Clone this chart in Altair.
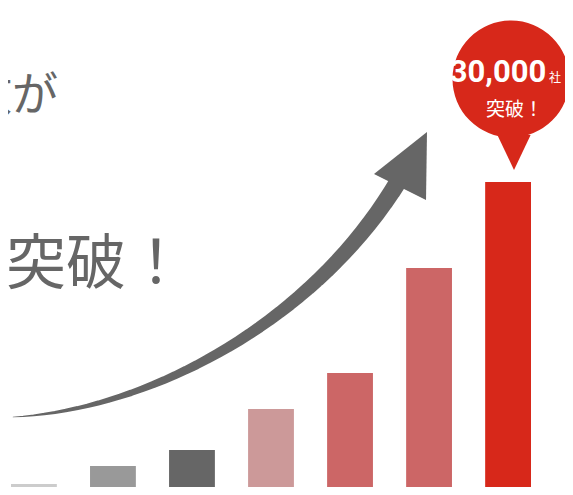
import altair as alt
import pandas as pd

# ---- data ----
years = ["2012", "2013", "2014", "2015", "2016", "2017", "2018"]
companies = [1050, 2780, 4310, 8240, 11690, 21760, 30000]
bar_colors = ["#cccccc", "#999999", "#666666", "#cc9999", "#cc6666", "#cc6666", "#d7281a"]

headline_top = "数が"
headline_mid = "突破！"
bubble_num = "30,000"
bubble_unit = "社"
bubble_sub = "突破！"

# ---- decoration geometry (page px) ----
OFF = 8
# cubic Bezier control points for the arrow shaft (decoration, not data)
P0, P1, P2, P3 = (13, 417), (150, 410), (320, 320), (405, 170)
N = 40
ax, ay, aw = [], [], []
for k in range(N + 1):
    t = k / N
    a, b, c, d = (1 - t) ** 3, 3 * (1 - t) ** 2 * t, 3 * (1 - t) * t ** 2, t ** 3
    ax.append(a * P0[0] + b * P1[0] + c * P2[0] + d * P3[0] - OFF)
    ay.append(a * P0[1] + b * P1[1] + c * P2[1] + d * P3[1] - OFF)
    aw.append(0.5 + 17.5 * t ** 0.85)

RED = "#d7281a"
GRAY = "#666666"
W, H = 557, 479

df_bars = pd.DataFrame({"year": years, "count": companies})
df_arrow = pd.DataFrame({"i": list(range(N + 1)), "x": ax, "y": ay, "w": aw})

bars = alt.Chart(df_bars).mark_bar().encode(
    x=alt.X("year:N", axis=None,
            scale=alt.Scale(domain=years, range=[3, 523], paddingInner=0.42, paddingOuter=0)),
    y=alt.Y("count:Q", axis=None, scale=alt.Scale(domain=[0, 30000], range=[487, 174])),
    color=alt.Color("year:N", legend=None, scale=alt.Scale(domain=years, range=bar_colors)),
)

trail = alt.Chart(df_arrow).mark_trail(color=GRAY).encode(
    x=alt.X("x:Q", scale=None, axis=None),
    y=alt.Y("y:Q", scale=None, axis=None),
    size=alt.Size("w:Q", scale=None, legend=None),
    order=alt.Order("i:Q"),
)

one = pd.DataFrame({"k": [0]})

head_path = "M0.794,-1L-0.765,0.235L0.765,1Z"
head = alt.Chart(one).mark_point(shape=head_path, filled=True, color=GRAY, opacity=1, strokeWidth=0).encode(
    x=alt.value(400 - OFF), y=alt.value(166 - OFF), size=alt.value(4624)
)

bubble = alt.Chart(one).mark_circle(color=RED, opacity=1).encode(
    x=alt.value(511 - OFF), y=alt.value(79 - OFF), size=alt.value(13685)
)
pointer = alt.Chart(one).mark_point(shape="M-0.95,-1L0.95,-1L0,1Z", filled=True, color=RED, opacity=1, strokeWidth=0).encode(
    x=alt.value(514 - OFF), y=alt.value(152.5 - OFF), size=alt.value(1225)
)

def txt(s, x, y, size, color, align="left", font="Noto Sans CJK JP", weight="normal"):
    return alt.Chart(pd.DataFrame({"t": [s]})).mark_text(
        align=align, baseline="alphabetic", fontSize=size, color=color, font=font, fontWeight=weight
    ).encode(x=alt.value(x), y=alt.value(y), text="t:N")

t1 = txt(headline_top, 58 - OFF, 110 - OFF, 46, GRAY, align="right")
t2 = txt(headline_mid, 6 - OFF, 284 - OFF, 60, GRAY)
t3 = txt(bubble_num, 498 - OFF, 82 - OFF, 31, "white", align="center",
         font="Roboto", weight="bold")
t4 = txt(bubble_unit, 549 - OFF, 82 - OFF, 12, "white")
t5 = txt(bubble_sub, 514.5 - OFF, 116 - OFF, 19, "white", align="center")

chart = alt.layer(
    bars, trail, head, bubble, pointer, t1, t2, t3, t4, t5
).resolve_scale(
    x="independent", y="independent", size="independent", color="independent"
).properties(
    width=W, height=H, padding=0, background="white",
    autosize=alt.AutoSizeParams(type="none"),
).configure_view(stroke=None)

chart.save("out.html", embed_options={"renderer": "svg", "actions": False})
